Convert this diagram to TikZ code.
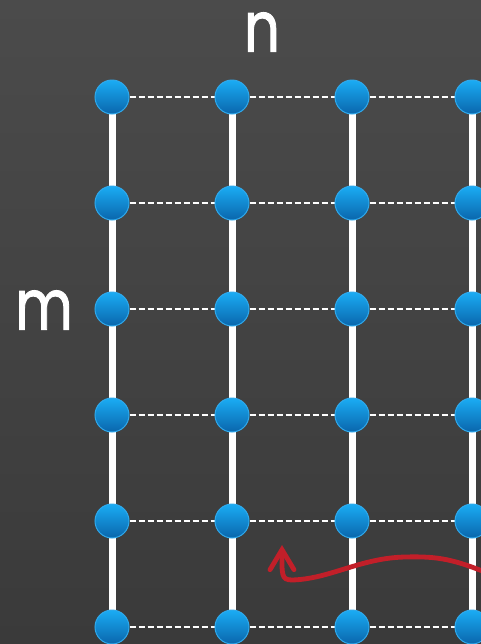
\documentclass[tikz,border=0pt]{standalone}
\usepackage{fontspec}
\setmainfont{Poppins}
\newfontfamily\labelfont{Poppins}[FakeBold=1.5]
\usetikzlibrary{arrows.meta, backgrounds}

\definecolor{bgtop}{HTML}{4B4B4B}
\definecolor{bgbot}{HTML}{3A3A3A}
\definecolor{dotrim}{HTML}{2FA9EC}
\definecolor{dottop}{HTML}{1AACF4}
\definecolor{dotbot}{HTML}{0A66AC}
\definecolor{arrowred}{HTML}{C21F29}

\begin{document}
\begin{tikzpicture}[
    x=0.5pt, y=-0.5pt,
    dot/.style={circle, draw=dotrim, line width=0.5pt, inner sep=0pt,
                minimum size=17pt, top color=dottop, bottom color=dotbot},
    rail/.style={white, line width=3.5pt},
    rung/.style={white, line width=1.1pt, dash pattern=on 3pt off 1.5pt},
    dimlabel/.style={text=white, inner sep=0pt,
                     font=\labelfont\fontsize{35}{35}\selectfont}
  ]
  \useasboundingbox (0,0) rectangle (481,644);
  \clip (0,0) rectangle (481,644);

  % Grid of nodes
  \foreach \i in {0,...,3} {
    \foreach \j in {0,...,5} {
      \node[dot] (d\i\j) at ({112+120*\i}, {97+106*\j}) {};
    }
  }

  % Labels
  \node[dimlabel] (lbln) at (262, 32) {\scalebox{0.8}[1]{n}};
  \node[dimlabel] (lblm) at (44, 310) {\scalebox{0.8}[1]{m}};

  \begin{scope}[on background layer]
    \shade[top color=bgtop, bottom color=bgbot] (0,0) rectangle (481,644);
    % Columns
    \foreach \i in {0,...,3} {
      \foreach \j [evaluate=\j as \k using int(\j+1)] in {0,...,4} {
        \draw[rail] (d\i\j.center) -- (d\i\k.center);
      }
    }
    % Rows
    \foreach \j in {0,...,5} {
      \foreach \i [evaluate=\i as \k using int(\i+1)] in {0,...,2} {
        \draw[rung] (d\i\j) -- (d\k\j);
      }
    }
  \end{scope}

  % Red arrow
  \coordinate (arrstart) at (490, 574);
  \coordinate (arrtip) at (282, 545);
  \draw[arrowred, line width=2.4pt, line cap=round,
        -{Straight Barb[length=10pt, width=12pt, line cap=round]}]
    (arrstart) .. controls (455,560) and (440,556) .. (405,557)
    .. controls (360,558) and (330,579) .. (292,580)
    .. controls (281,580) and (282,574) .. (arrtip);
\end{tikzpicture}
\end{document}
